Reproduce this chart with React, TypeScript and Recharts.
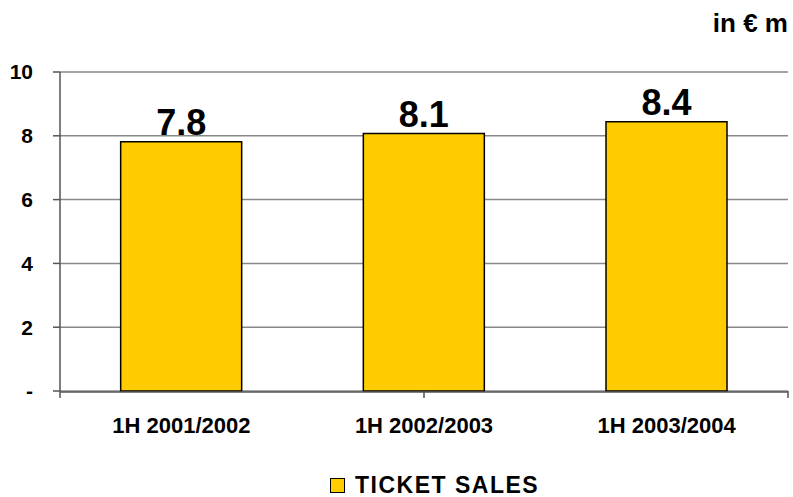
import React from 'react';
import { BarChart, Bar, XAxis, YAxis, CartesianGrid, LabelList, Legend } from 'recharts';

const categories = ['1H 2001/2002', '1H 2002/2003', '1H 2003/2004'];
const ticketSales = [7.81, 8.07, 8.44];
const yTicks = [0, 2, 4, 6, 8, 10];
const edgeTicks = [0, 1, 2, 3];
const seriesName = 'TICKET SALES';
const unitLabel = 'in € m';

const data = categories.map((c, i) => ({ period: c, sales: ticketSales[i] }));

const FONT = '"Liberation Sans", Arial, Helvetica, sans-serif';
const BAR_COLOR = '#FFCC00';

const blankTick = () => '';
const yTickFormat = (v: number) => (v === 0 ? '-' : String(v));
const labelFormat = (v: any) => Number(v).toFixed(1);

const renderLegend = (props: any) => {
  const item = (props.payload && props.payload[0]) || { value: seriesName };
  return (
    <div style={{ display: 'flex', alignItems: 'center', paddingLeft: 330, height: 24 }}>
      <span
        style={{
          display: 'inline-block',
          width: 13,
          height: 13,
          background: BAR_COLOR,
          border: '1.5px solid #000',
          marginRight: 10,
        }}
      />
      <span
        style={{
          fontFamily: FONT,
          fontWeight: 'bold',
          fontSize: 23,
          letterSpacing: 1.5,
          lineHeight: '24px',
          color: '#000',
        }}
      >
        {item.value}
      </span>
    </div>
  );
};

export default function App() {
  return (
    <div style={{ position: 'absolute', left: 0, top: 0, width: 793, height: 497, background: '#fff' }}>
      <svg width={793} height={40} style={{ position: 'absolute', left: 0, top: 0 }}>
        <text x={788} y={32} textAnchor="end" fontFamily={FONT} fontWeight="bold" fontSize={26} fill="#000">
          {unitLabel}
        </text>
      </svg>
      <BarChart
        width={793}
        height={497}
        data={data}
        margin={{ top: 72, right: 5, left: 0, bottom: 0 }}
        barCategoryGap="25%"
      >
        <CartesianGrid xAxisId={1} yAxisId="left" vertical={false} stroke="#888" strokeWidth={1.5} />
        <XAxis
          xAxisId={0}
          type="number"
          domain={[0, 3]}
          ticks={edgeTicks}
          height={1}
          interval={0}
          axisLine={false}
          tickSize={7}
          tickLine={{ stroke: '#555', strokeWidth: 1.5 }}
          tickFormatter={blankTick}
          allowDataOverflow
        />
        <XAxis
          xAxisId={1}
          dataKey="period"
          height={81}
          interval={0}
          axisLine={{ stroke: '#555', strokeWidth: 1.5 }}
          tickLine={false}
          tickSize={0}
          tickMargin={25}
          tick={{ fill: '#000', fontSize: 22, fontWeight: 'bold', fontFamily: FONT }}
        />
        <YAxis
          yAxisId="left"
          domain={[0, 10]}
          ticks={yTicks}
          width={60}
          tickSize={7}
          tickMargin={20}
          interval={0}
          axisLine={{ stroke: '#555', strokeWidth: 1.5 }}
          tickLine={{ stroke: '#555', strokeWidth: 1.5 }}
          tick={{ fill: '#000', fontSize: 21, fontWeight: 'bold', fontFamily: FONT }}
          tickFormatter={yTickFormat}
        />
        <YAxis
          yAxisId="right"
          orientation="right"
          width={0}
          domain={[0, 10]}
          tick={false}
          tickLine={false}
          axisLine={{ stroke: '#888', strokeWidth: 1.5 }}
        />
        <Bar
          xAxisId={1}
          yAxisId="left"
          dataKey="sales"
          name={seriesName}
          fill={BAR_COLOR}
          stroke="#000"
          strokeWidth={1.5}
          isAnimationActive={false}
        >
          <LabelList
            dataKey="sales"
            position="top"
            offset={7}
            formatter={labelFormat}
            style={{ fill: '#000', fontSize: 36, fontWeight: 'bold', fontFamily: FONT }}
          />
        </Bar>
        <Legend verticalAlign="bottom" content={renderLegend} />
      </BarChart>
    </div>
  );
}
